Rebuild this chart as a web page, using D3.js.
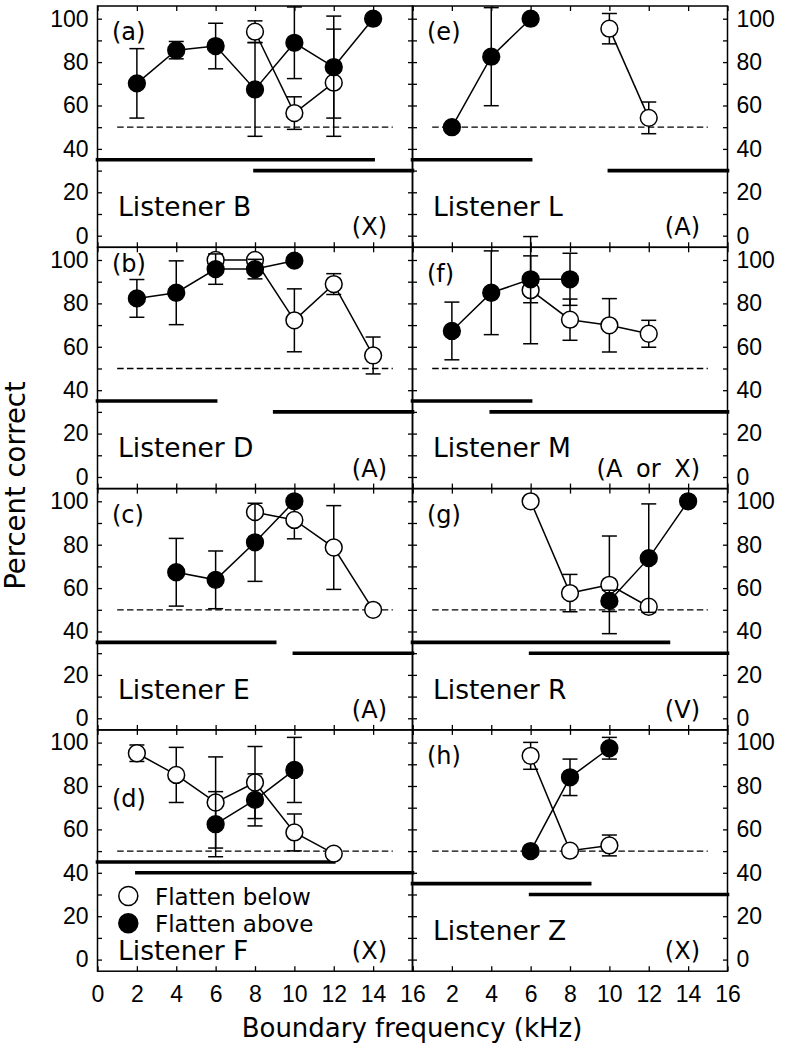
<!DOCTYPE html>
<html>
<head>
<meta charset="utf-8">
<script src="https://cdn.jsdelivr.net/npm/d3@7/dist/d3.min.js"></script>
<style>
  html, body { margin: 0; padding: 0; background: #fff; }
  svg { display: block; }
  .num { font-family: "Liberation Sans", Arial, sans-serif; font-size: 23px; fill: #000; }
  .txt { font-family: "DejaVu Sans", sans-serif; fill: #000; }
</style>
</head>
<body>
<script>
// ---------------- data ----------------
const freqs = [2, 4, 6, 8, 10, 12, 14];
const panelIds = ["a", "b", "c", "d", "e", "f", "g", "h"];
const listeners = ["B", "D", "E", "F", "L", "M", "R", "Z"];
const conditionLabels = ["(X)", "(A)", "(A)", "(X)", "(A)", "(A or X)", "(V)", "(X)"];
const xTickValues = [0, 2, 4, 6, 8, 10, 12, 14, 16];
const yTickValues = [0, 10, 20, 30, 40, 50, 60, 70, 80, 90, 100];
const yLabelValues = [0, 20, 40, 60, 80, 100];
const chanceLevel = 50;
const chanceRange = [1, 15];

// Flatten below (open circles), per panel a..h, at freqs
const flattenBelow = [
  [null, null, null, 94, 56.5, 70.5, null],
  [null, null, 100, 100, 72.2, 88.9, 56],
  [null, null, null, 95, 91.4, 78.7, 50],
  [95.1, 85.1, 72.4, 81.6, 58.6, 48.8, null],
  [null, null, null, null, 95.4, 54.3, null],
  [null, null, 86.1, 72.5, 69.9, 66, null],
  [null, null, 100, 57.7, 61.5, 51.4, null],
  [null, null, 93.9, 50.2, 52.6, null, null]
];
const flattenBelowErr = [
  [null, null, null, 5, 7.5, 24.7, null],
  [null, null, null, null, 14.5, 4.8, 8.5],
  [null, null, null, null, 8.7, 19.3, null],
  [3.8, 12.7, 21, 16.6, 8.5, null, null],
  [null, null, null, null, 7, 7.3, null],
  [null, null, 24.7, 9.5, 12.3, 6.2, null],
  [null, null, null, 8.6, 22.5, null, null],
  [null, null, 6.2, null, 4.8, null, null]
];
// Flatten above (filled circles)
const flattenAbove = [
  [70.2, 85.5, 87.4, 67.4, 88.9, 77.7, 100],
  [82.3, 84.9, 95.8, 95.8, 99.7, null, null],
  [null, 67.3, 63.8, 81.1, 100, null, null],
  [null, null, 62.4, 73.6, 87.4, null, null],
  [50, 82.5, 100, null, null, null, null],
  [67.3, 84.9, 91.1, 91.1, null, null, null],
  [null, null, null, null, 54.1, 73.8, 100],
  [null, null, 50, 84, 97.4, null, null]
];
const flattenAboveErr = [
  [16, 4, 10.5, 21.6, 16.5, 23.5, null],
  [8.7, 14.7, 7, 4.5, null, null, null],
  [null, 15.6, 13.3, 18, null, null, null],
  [null, null, 15, 12, 15, null, null],
  [null, 22.6, null, null, null, null, null],
  [13.3, 19.3, 10.8, 12, null, null, null],
  [null, null, null, null, 4.9, 25, null],
  [null, null, null, 8.4, 5, null, null]
];
// thick horizontal band lines: [level, from kHz, to kHz]
const bandLevels = [[35, 30], [35, 30], [35, 30], [45, 40], [35, 30], [35, 30], [35, 30], [35, 30]];
const firstBand = [[0, 14], [0, 6], [0, 9], [0, 12], [0, 6], [0, 6], [0, 13], [0, 9]];
const secondBand = [[8, 16], [9, 16], [10, 16], [2, 16], [10, 16], [4, 16], [6, 16], [6, 16]];
const legendLabels = ["Flatten below", "Flatten above"];

// ---------------- layout ----------------
const W = 785, H = 1048;
const colX = [97.5, 412.5], PW = 315;
const rowTop = [6, 247.3, 488.6, 729.9], PH = 241.3;
const yDomain = [-5.35, 105.85];
const R = 8.4;

const svg = d3.select("body").append("svg").attr("width", W).attr("height", H);

panelIds.forEach((pid, i) => {
  const col = i < 4 ? 0 : 1, row = i % 4;
  const x0 = colX[col], top = rowTop[row];
  const x = d3.scaleLinear().domain([0, 16]).range([x0, x0 + PW]);
  const y = d3.scaleLinear().domain(yDomain).range([top + PH, top]);
  const g = svg.append("g");

  // axes (inward ticks)
  const bottomAx = d3.axisBottom(x).tickValues(xTickValues).tickSizeInner(-5).tickSizeOuter(0)
    .tickPadding(14).tickFormat(row === 3 ? (d => (col === 1 && d === 0) ? "" : d) : "");
  const topAx = d3.axisTop(x).tickValues(xTickValues).tickSizeInner(-5).tickSizeOuter(0).tickFormat("");
  const leftAx = d3.axisLeft(y).tickValues(yTickValues).tickSizeInner(-4.5).tickSizeOuter(0)
    .tickPadding(9).tickFormat(col === 0 ? (d => yLabelValues.includes(d) ? d : "") : "");
  const rightAx = d3.axisRight(y).tickValues(yTickValues).tickSizeInner(-4.5).tickSizeOuter(0)
    .tickPadding(9).tickFormat(col === 1 ? (d => yLabelValues.includes(d) ? d : "") : "");

  const styleAx = sel => {
    sel.select(".domain").remove();
    sel.selectAll("line").attr("stroke", "#000").attr("stroke-width", 1.3);
    sel.selectAll("text").attr("class", "num").attr("font-family", null).attr("font-size", null);
  };
  g.append("g").attr("transform", `translate(0,${top + PH})`).call(bottomAx).call(styleAx);
  g.append("g").attr("transform", `translate(0,${top})`).call(topAx).call(styleAx);
  g.append("g").attr("transform", `translate(${x0},0)`).call(leftAx).call(styleAx);
  g.append("g").attr("transform", `translate(${x0 + PW},0)`).call(rightAx).call(styleAx);

  // frame
  g.append("rect").attr("x", x0).attr("y", top).attr("width", PW).attr("height", PH)
    .attr("fill", "none").attr("stroke", "#000").attr("stroke-width", 1.5);

  // chance line
  g.append("line").attr("x1", x(chanceRange[0])).attr("x2", x(chanceRange[1]))
    .attr("y1", y(chanceLevel)).attr("y2", y(chanceLevel))
    .attr("stroke", "#000").attr("stroke-width", 1.3).attr("stroke-dasharray", "6.5,3.3");

  // thick band lines
  [firstBand[i], secondBand[i]].forEach((b, k) => {
    g.append("line").attr("x1", x(b[0])).attr("x2", x(b[1]))
      .attr("y1", y(bandLevels[i][k])).attr("y2", y(bandLevels[i][k]))
      .attr("stroke", "#000").attr("stroke-width", 3.6).attr("stroke-linecap", "square");
  });

  // series
  const series = [
    { vals: flattenBelow[i], errs: flattenBelowErr[i], fill: "#fff" },
    { vals: flattenAbove[i], errs: flattenAboveErr[i], fill: "#000" }
  ];
  series.forEach(s => {
    const pts = freqs.map((f, j) => ({ f, v: s.vals[j], e: s.errs[j] })).filter(p => p.v != null);
    g.append("path").datum(pts)
      .attr("d", d3.line().x(p => x(p.f)).y(p => y(p.v)))
      .attr("fill", "none").attr("stroke", "#000").attr("stroke-width", 1.5);
    const eb = g.append("g").selectAll("g").data(pts.filter(p => p.e != null)).join("g")
      .attr("stroke", "#000").attr("stroke-width", 1.5);
    eb.append("line").attr("x1", p => x(p.f)).attr("x2", p => x(p.f))
      .attr("y1", p => y(p.v - p.e)).attr("y2", p => y(p.v + p.e));
    eb.append("line").attr("x1", p => x(p.f) - 7.5).attr("x2", p => x(p.f) + 7.5)
      .attr("y1", p => y(p.v + p.e)).attr("y2", p => y(p.v + p.e));
    eb.append("line").attr("x1", p => x(p.f) - 7.5).attr("x2", p => x(p.f) + 7.5)
      .attr("y1", p => y(p.v - p.e)).attr("y2", p => y(p.v - p.e));
    g.append("g").selectAll("circle").data(pts).join("circle")
      .attr("cx", p => x(p.f)).attr("cy", p => y(p.v)).attr("r", R)
      .attr("fill", s.fill).attr("stroke", "#000").attr("stroke-width", 1.5);
  });

  // panel texts
  const labelDy = pid === "b" ? 24.7 : (pid === "d" ? 77 : 34.3);
  g.append("text").attr("class", "txt").attr("font-size", 24)
    .attr("x", x0 + 14.5).attr("y", top + labelDy).text(`(${pid})`);
  const listenerDy = pid === "d" ? 230 : 210;
  g.append("text").attr("class", "txt").attr("font-size", 26.5)
    .attr("x", x0 + 20.5).attr("y", top + listenerDy).text(`Listener ${listeners[i]}`);
  g.append("text").attr("class", "txt").attr("font-size", 24).attr("text-anchor", "end")
    .attr("word-spacing", 6)
    .attr("x", x0 + (col === 0 ? 289.5 : 287.5)).attr("y", top + 229.3).text(conditionLabels[i]);

  // legend in panel d
  if (pid === "d") {
    legendLabels.forEach((lab, k) => {
      const cy = 896 + k * 27.3;
      g.append("circle").attr("cx", 128.3).attr("cy", cy).attr("r", 9.5)
        .attr("fill", k === 0 ? "#fff" : "#000").attr("stroke", "#000").attr("stroke-width", 1.5);
      g.append("text").attr("class", "txt").attr("font-size", 23)
        .attr("x", 155).attr("y", cy + 8.5).text(lab);
    });
  }
});

// axis titles
svg.append("text").attr("class", "txt").attr("font-size", 27.5).attr("text-anchor", "middle")
  .attr("transform", "translate(25,485.5) rotate(-90)").text("Percent correct");
svg.append("text").attr("class", "txt").attr("font-size", 26).attr("text-anchor", "middle")
  .attr("x", 412).attr("y", 1036.7).text("Boundary frequency (kHz)");
</script>
</body>
</html>
